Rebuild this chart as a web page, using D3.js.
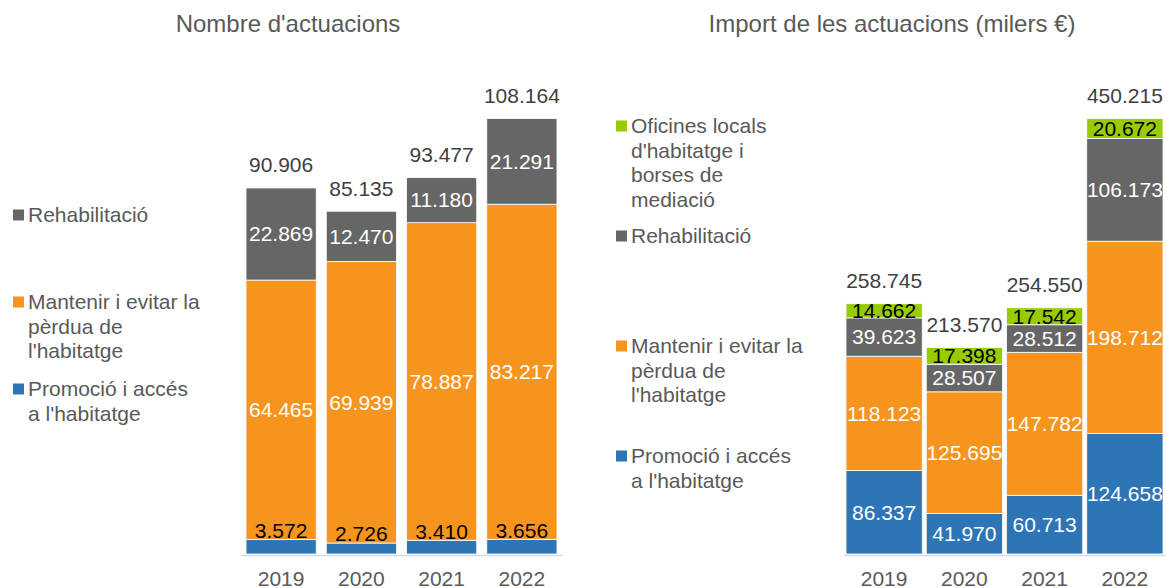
<!DOCTYPE html>
<html>
<head>
<meta charset="utf-8">
<script src="https://cdn.jsdelivr.net/npm/d3@7"></script>
<style>
  body { margin: 0; background: #fff; }
  svg { display: block; font-family: "Liberation Sans", Arial, sans-serif; }
</style>
</head>
<body>
<svg id="chart" width="1167" height="588"></svg>
<script>
// data
const years = ["2019", "2020", "2021", "2022"];

const promocio = [3572, 2726, 3410, 3656];
const mantenir = [64465, 69939, 78887, 83217];
const rehab = [22869, 12470, 11180, 21291];
const totalNombre = [90906, 85135, 93477, 108164];

const promocioImport = [86337, 41970, 60713, 124658];
const mantenirImport = [118123, 125695, 147782, 198712];
const rehabImport = [39623, 28507, 28512, 106173];
const oficinesImport = [14662, 17398, 17542, 20672];
const totalImport = [258745, 213570, 254550, 450215];

const colors = {
  promocio: "#2e75b6",
  mantenir: "#f7941e",
  rehab: "#666666",
  oficines: "#99cc00"
};

const legendNames = {
  promocio: ["Promoció i accés", "a l'habitatge"],
  mantenir: ["Mantenir i evitar la", "pèrdua de", "l'habitatge"],
  rehab: ["Rehabilitació"],
  oficines: ["Oficines locals", "d'habitatge i", "borses de", "mediació"]
};

const fmt = v => d3.format(",")(v).replace(/,/g, ".");

const svg = d3.select("#chart");
const baseY = 554, topY = 118.5;

function drawChart(opt) {
  const g = svg.append("g");
  const rows = years.map((y, i) => {
    const r = { year: y };
    opt.keys.forEach(k => r[k] = opt.series[k][i]);
    return r;
  });
  const stack = d3.stack().keys(opt.keys)(rows);
  const tops = stack[stack.length - 1].map(d => d[1]);

  const x = d3.scaleBand().domain(years).range(opt.xRange)
    .paddingInner(opt.pad).paddingOuter(opt.pad / 2);
  const y = d3.scaleLinear().domain([0, d3.max(tops)]).range([baseY, topY]);

  // title
  g.append("text")
    .attr("x", opt.titleX).attr("y", 24).attr("dy", "0.35em")
    .attr("text-anchor", "middle")
    .style("font-size", "24px").attr("fill", "#595959")
    .text(opt.title);

  // bars
  stack.forEach(layer => {
    g.selectAll(null).data(layer).enter().append("rect")
      .attr("x", (d, i) => x(years[i]))
      .attr("width", x.bandwidth())
      .attr("y", d => y(d[1]))
      .attr("height", d => y(d[0]) - y(d[1]))
      .attr("fill", colors[layer.key])
      .attr("stroke", "#fff").attr("stroke-width", 0.8);
  });

  // axis line
  const ax = g.append("g").attr("transform", `translate(0,${baseY + 1})`)
    .call(d3.axisBottom(x).tickSize(0).tickPadding(0));
  ax.select(".domain").attr("stroke", "#d9d9d9").attr("stroke-width", 1.5);
  ax.selectAll(".tick text")
    .attr("y", 24).attr("dy", "0.35em")
    .style("font-size", "21px").style("font-family", "Liberation Sans, Arial, sans-serif")
    .attr("fill", "#595959");

  // segment labels
  stack.forEach(layer => {
    const dark = layer.key === "oficines" || (opt.lowLabel && layer.key === "promocio");
    g.selectAll(null).data(layer).enter().append("text")
      .attr("x", (d, i) => x(years[i]) + x.bandwidth() / 2)
      .attr("y", d => {
        if (opt.lowLabel && layer.key === "promocio") return y(d[1]) - 9;
        return (y(d[0]) + y(d[1])) / 2;
      })
      .attr("dy", "0.35em")
      .attr("text-anchor", "middle")
      .style("font-size", "21px")
      .attr("fill", dark ? "#000" : "#fff")
      .text(d => fmt(d[1] - d[0]));
  });

  // totals
  g.selectAll(null).data(opt.totals).enter().append("text")
    .attr("x", (d, i) => x(years[i]) + x.bandwidth() / 2)
    .attr("y", (d, i) => y(tops[i]) - 23)
    .attr("dy", "0.35em")
    .attr("text-anchor", "middle")
    .style("font-size", "21px").attr("fill", "#404040")
    .text(fmt);

  // legend
  opt.legend.forEach(item => {
    const lg = g.append("g");
    lg.append("rect")
      .attr("x", opt.legendX).attr("y", item.y - 5.5)
      .attr("width", 11).attr("height", 11)
      .attr("fill", colors[item.key]);
    legendNames[item.key].forEach((line, j) => {
      lg.append("text")
        .attr("x", opt.legendX + 15).attr("y", item.y + j * 24.5)
        .attr("dy", "0.35em")
        .style("font-size", "21px").attr("fill", "#595959")
        .text(line);
    });
  });
}

drawChart({
  title: "Nombre d'actuacions",
  titleX: 288,
  keys: ["promocio", "mantenir", "rehab"],
  series: { promocio: promocio, mantenir: mantenir, rehab: rehab },
  totals: totalNombre,
  xRange: [241, 562],
  pad: 0.125,
  lowLabel: true,
  legendX: 13,
  legend: [
    { key: "rehab", y: 215 },
    { key: "mantenir", y: 302 },
    { key: "promocio", y: 389 }
  ]
});

drawChart({
  title: "Import de les actuacions (milers €)",
  titleX: 892,
  keys: ["promocio", "mantenir", "rehab", "oficines"],
  series: { promocio: promocioImport, mantenir: mantenirImport, rehab: rehabImport, oficines: oficinesImport },
  totals: totalImport,
  xRange: [844, 1165],
  pad: 0.05,
  lowLabel: false,
  legendX: 616,
  legend: [
    { key: "oficines", y: 126 },
    { key: "rehab", y: 236 },
    { key: "mantenir", y: 346 },
    { key: "promocio", y: 456 }
  ]
});
</script>
</body>
</html>
